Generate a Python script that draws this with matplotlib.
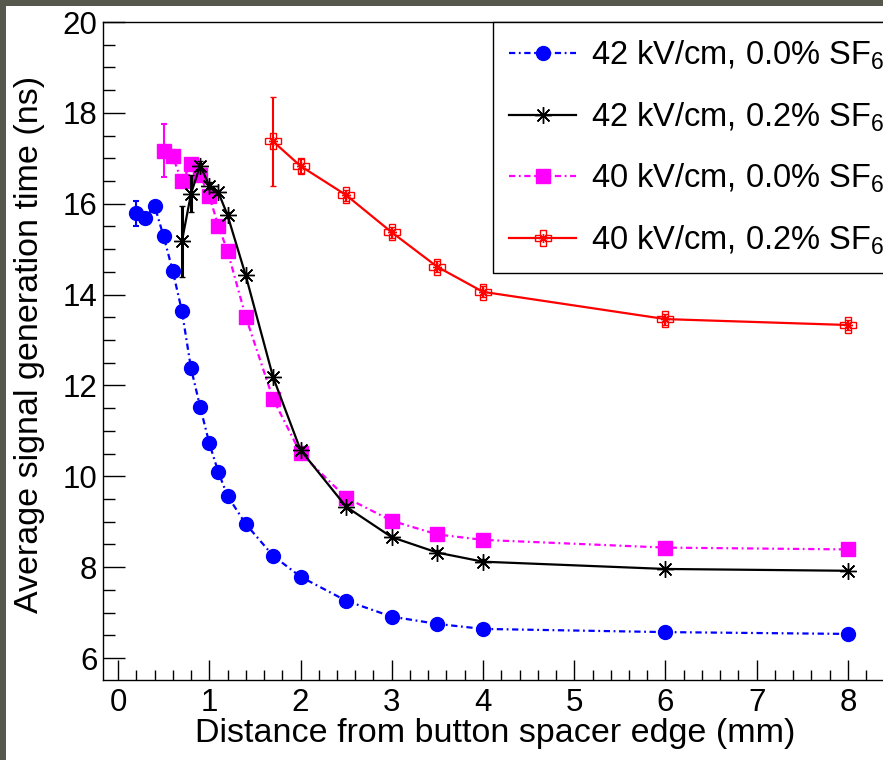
import matplotlib
matplotlib.use("Agg")
import matplotlib.pyplot as plt
from matplotlib.lines import Line2D
from matplotlib.patches import Rectangle
from matplotlib.legend_handler import HandlerTuple
from matplotlib.ticker import MultipleLocator

plt.rcParams['font.family'] = ['Liberation Sans', 'DejaVu Sans']
plt.rcParams['mathtext.fontset'] = 'custom'
plt.rcParams['mathtext.rm'] = 'Liberation Sans'
plt.rcParams['mathtext.it'] = 'Liberation Sans'
plt.rcParams['lines.scale_dashes'] = False

# ---- data -------------------------------------------------------------
x_b42_0 = [0.2, 0.3, 0.4, 0.5, 0.6, 0.7, 0.8, 0.9, 1.0, 1.1, 1.2, 1.4, 1.7,
           2.0, 2.5, 3.0, 3.5, 4.0, 6.0, 8.0]
y_b42_0 = [15.79, 15.68, 15.96, 15.28, 14.52, 13.64, 12.38, 11.53, 10.73,
           10.09, 9.57, 8.95, 8.25, 7.79, 7.26, 6.91, 6.75, 6.64, 6.57, 6.53]
e_b42_0 = [0.27, 0.05, 0.05, 0.05, 0.05, 0.05, 0.05, 0.05, 0.05, 0.05,
           0.05, 0.05, 0.05, 0.05, 0.05, 0.05, 0.05, 0.05, 0.05, 0.05]

x_k42_2 = [0.7, 0.8, 0.9, 1.0, 1.1, 1.2, 1.4, 1.7, 2.0, 2.5, 3.0, 3.5, 4.0,
           6.0, 8.0]
y_k42_2 = [15.17, 16.22, 16.84, 16.40, 16.25, 15.75, 14.42, 12.18, 10.58,
           9.33, 8.66, 8.32, 8.12, 7.96, 7.92]
e_k42_2 = [0.79, 0.41, 0.10, 0.08, 0.06, 0.06, 0.06, 0.06, 0.06, 0.05,
           0.05, 0.05, 0.05, 0.05, 0.05]

x_m40_0 = [0.5, 0.6, 0.7, 0.8, 0.9, 1.0, 1.1, 1.2, 1.4, 1.7, 2.0, 2.5, 3.0,
           3.5, 4.0, 6.0, 8.0]
y_m40_0 = [17.17, 17.04, 16.49, 16.87, 16.63, 16.17, 15.51, 14.96, 13.51,
           11.70, 10.51, 9.53, 9.02, 8.72, 8.60, 8.43, 8.39]
e_m40_0 = [0.59, 0.15, 0.10, 0.08, 0.08, 0.06, 0.06, 0.06, 0.06, 0.06,
           0.06, 0.05, 0.05, 0.05, 0.05, 0.05, 0.05]

x_r40_2 = [1.7, 2.0, 2.5, 3.0, 3.5, 4.0, 6.0, 8.0]
y_r40_2 = [17.37, 16.83, 16.19, 15.37, 14.61, 14.06, 13.46, 13.33]
e_r40_2 = [0.98, 0.15, 0.12, 0.12, 0.12, 0.12, 0.12, 0.12]

labels = [r"42 kV/cm, 0.0% SF$_6$", r"42 kV/cm, 0.2% SF$_6$",
          r"40 kV/cm, 0.0% SF$_6$", r"40 kV/cm, 0.2% SF$_6$"]

xticks = [0, 1, 2, 3, 4, 5, 6, 7, 8]
yticks = [6, 8, 10, 12, 14, 16, 18, 20]

# ---- figure -----------------------------------------------------------
W, H = 883, 760
fig = plt.figure(figsize=(W / 100, H / 100), dpi=100, facecolor='#57584d')
panel = Rectangle((6 / W, 0), 1, (H - 6) / H, transform=fig.transFigure,
                  facecolor='white', edgecolor='none', zorder=-5)
fig.patches.append(panel)

ax_l, ax_r, ax_t, ax_b = 103, 888, 22, 680
ax = fig.add_axes([ax_l / W, (H - ax_b) / H, (ax_r - ax_l) / W, (ax_b - ax_t) / H])
ax.set_zorder(2)
ax.set_facecolor('white')

x0_px, x_scale = 118, 91.25
ax.set_xlim((ax_l - x0_px) / x_scale, (ax_r - x0_px) / x_scale)
ax.set_ylim(6 - (ax_b - 658) / 45.43, 20)

dashdot = (0, (4.5, 2.6, 1.3, 2.6))
lw = 1.6

# blue circles, dash-dot
ax.errorbar(x_b42_0, y_b42_0, yerr=e_b42_0, color='#0000ff', lw=lw, ls=dashdot,
            marker='o', ms=10, mec='#0000ff', mfc='#0000ff',
            elinewidth=1.5, capsize=2.5, capthick=1.5, zorder=3)

# magenta squares, dash-dot
ax.errorbar(x_m40_0, y_m40_0, yerr=e_m40_0, color='#ff00ff', lw=lw, ls=dashdot,
            marker='s', ms=10, mec='#ff00ff', mfc='#ff00ff',
            elinewidth=1.5, capsize=2.5, capthick=1.5, zorder=4)

# black stars, solid
star8 = (8, 2, 0)
ax.errorbar(x_k42_2, y_k42_2, yerr=e_k42_2, color='black', lw=lw, ls='-',
            marker=star8, ms=12, mew=1.0, mec='black',
            elinewidth=2.2, capsize=2.5, capthick=1.5, zorder=5)

# red open crosses with inner star, solid
ax.errorbar(x_r40_2, y_r40_2, yerr=e_r40_2, color='#ff0000', lw=lw, ls='-',
            marker='P', ms=11, mew=1.0, mec='#ff0000', mfc='none',
            elinewidth=1.5, capsize=2.5, capthick=1.5, zorder=5)
ax.plot(x_r40_2, y_r40_2, ls='none', marker=star8, ms=6.5, mew=1.0,
        mec='#ff0000', zorder=6)

# ---- axes styling -----------------------------------------------------
for s in ax.spines.values():
    s.set_linewidth(1.0)
    s.set_color('black')

ax.set_xticks(xticks)
ax.set_yticks(yticks)
ax.xaxis.set_minor_locator(MultipleLocator(0.2))
ax.yaxis.set_minor_locator(MultipleLocator(0.5))
ax.tick_params(axis='x', which='major', direction='in', length=14.4, width=1.0,
               labelsize=22.5, pad=6)
ax.tick_params(axis='x', which='minor', direction='in', length=7.2, width=1.0)
ax.tick_params(axis='y', which='major', direction='in', length=15.8, width=1.0,
               labelsize=22.5, pad=4)
ax.tick_params(axis='y', which='minor', direction='in', length=8.6, width=1.0)

ax.set_xlabel("Distance from button spacer edge (mm)", fontsize=24.5)
ax.set_ylabel("Average signal generation time (ns)", fontsize=24.5)
ax.xaxis.set_label_coords(0.5, -0.057)
ax.yaxis.set_label_coords(-0.074, 0.51)

# ---- legend -----------------------------------------------------------
h_blue = Line2D([], [], color='#0000ff', lw=lw, ls=dashdot, marker='o', ms=10)
h_black = Line2D([], [], color='black', lw=lw, ls='-', marker=star8, ms=12, mew=1.0)
h_mag = Line2D([], [], color='#ff00ff', lw=lw, ls=dashdot, marker='s', ms=10)
h_red_a = Line2D([], [], color='#ff0000', lw=lw, ls='-', marker='P', ms=11,
                 mew=1.0, mfc='none')
h_red_b = Line2D([], [], color='#ff0000', ls='none', marker=star8, ms=6.5, mew=1.0)

leg = ax.legend([h_blue, h_black, h_mag, (h_red_a, h_red_b)], labels,
                loc='upper left',
                bbox_to_anchor=((493 - ax_l) / (ax_r - ax_l), 1.0),
                fontsize=23.5, frameon=True, fancybox=False, shadow=False,
                borderaxespad=0, borderpad=0.5, handlelength=2.05,
                handletextpad=0.45, labelspacing=0.87,
                handler_map={tuple: HandlerTuple(ndivide=1)})
leg.get_frame().set_edgecolor('black')
leg.get_frame().set_linewidth(1.0)
leg.get_frame().set_alpha(1.0)

fig.savefig("out.png", dpi=100, facecolor=fig.get_facecolor())
